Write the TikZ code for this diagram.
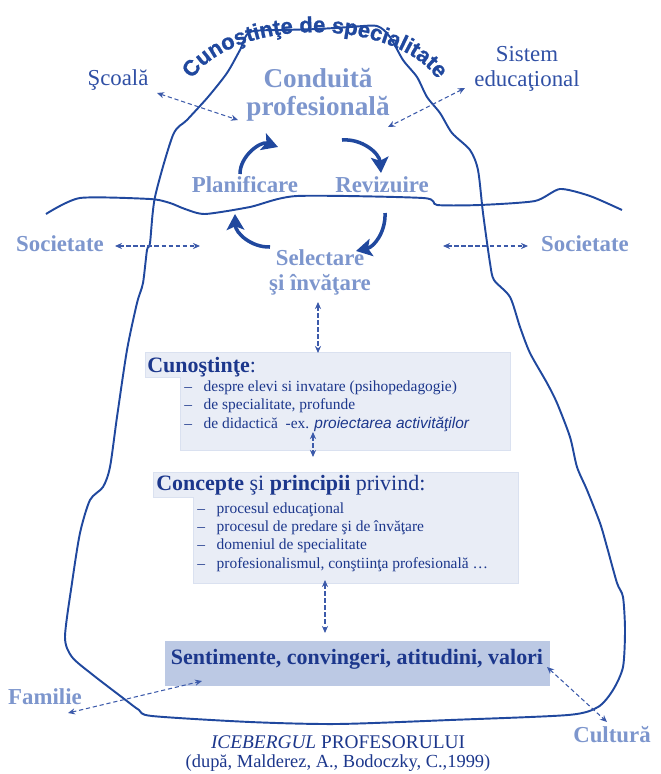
\documentclass[tikz,border=0pt]{standalone}
\usepackage{fontspec}
\setmainfont{Liberation Serif}
\setsansfont{Liberation Sans}
\newfontfamily\archfont[FakeBold=1]{Liberation Sans}
\usetikzlibrary{arrows.meta, decorations.text}
\definecolor{icedark}{RGB}{32,72,158}
\definecolor{navytext}{RGB}{28,55,140}
\definecolor{midblue}{RGB}{48,80,165}
\definecolor{paleblue}{RGB}{125,150,205}
\definecolor{boxfill}{RGB}{233,237,246}
\definecolor{boxedge}{RGB}{218,225,240}
\definecolor{sentfill}{RGB}{188,201,228}
\definecolor{arrblue}{RGB}{60,90,170}
\tikzset{
    bigpale/.style={anchor=base, inner sep=0pt, text=paleblue, font=\fontsize{15.5}{16}\selectfont\bfseries},
    cycpale/.style={anchor=base, inner sep=0pt, text=paleblue, font=\fontsize{13}{15}\selectfont\bfseries},
    outer/.style={anchor=base, inner sep=0pt, text=midblue, font=\fontsize{13}{15}\selectfont},
    head/.style={anchor=base west, inner sep=0pt, text=navytext, font=\fontsize{12.5}{14}\selectfont},
    item/.style={anchor=base west, inner sep=0pt, align=left, text=navytext, font=\fontsize{8.8}{10.3}\selectfont},
    panel/.style={fill=boxfill, draw=boxedge, line width=0.4pt},
    cyc/.style={-{Stealth[length=9pt,width=10pt,inset=2pt]}, line width=2pt, icedark},
    dbl/.style={{Stealth[length=4pt,width=3.5pt]}-{Stealth[length=4pt,width=3.5pt]}, line width=0.6pt, arrblue, dash pattern=on 2.4pt off 1.6pt}
}
\newcommand{\dash}{\makebox[11pt][l]{–}}
\begin{document}
\begin{tikzpicture}[x=0.02cm, y=-0.02cm]
    \useasboundingbox (0,0) rectangle (660,774);
    % iceberg outline and water line
    \draw[icedark, line width=1.1pt] plot[smooth cycle, tension=0.45] coordinates {
      (250,32) (285,30) (318,29) (350,27) (377,26) (390,37) (403,60) (417,77)
      (427,97) (440,113) (452,133) (470,150) (478,170) (483,213) (490,263)
      (494,280) (510,297) (520,327) (530,353) (547,383) (557,403) (570,437)
      (577,467) (587,490) (600,523) (607,547) (617,583) (623,597) (625,630)
      (623,667) (613,690) (598,707) (568,715) (450,720) (337,724) (250,722)
      (152,716) (139,710) (123,698) (93,675) (72,657) (65,637) (72,583)
      (80,533) (90,500) (103,487) (110,467) (117,417) (127,350) (137,303)
      (143,283) (147,250) (150,243) (155,197) (173,135) (187,120) (208,97)
      (227,73) (240,50)};
    \draw[icedark, line width=1.1pt] plot[smooth, tension=0.4] coordinates {
      (46,214) (80,198) (150,199) (170,203) (185,209) (205,214) (250,207)
      (297,196) (423,198) (437,205) (480,205) (535,201) (560,189) (590,196)
      (622,210)};
    \path[decorate, decoration={text along path, text align=center,
      text color=icedark,
      text={|\fontsize{12.5}{14}\selectfont\archfont\bfseries|Cunoştinţe de specialitate}}]
      (184,96) .. controls (210,11) and (418,11) .. (446,96);
    % panels
    \draw[panel] (145,352) -- (510,352) -- (510,450) -- (180,450) -- (180,377)
      -- (145,377) -- cycle;
    \draw[panel] (153,472) -- (518,472) -- (518,583) -- (193,583) -- (193,497)
      -- (153,497) -- cycle;
    \fill[sentfill] (165,641) rectangle (550,686);
    % labels
    \node[bigpale] (cond) at (318,87) {Conduită};
    \node[bigpale] (prof) at (318,115) {profesională};
    \node[cycpale] (plan) at (245,192) {Planificare};
    \node[cycpale] (rev) at (382,192) {Revizuire};
    \node[cycpale] (sel) at (320,265) {Selectare};
    \node[cycpale] (sel2) at (320,290) {şi învăţare};
    \node[outer] (scoala) at (118,85) {Şcoală};
    \node[outer] (sist) at (527,61) {Sistem};
    \node[outer] (educ) at (527,86) {educaţional};
    \node[cycpale] (socl) at (60,251) {Societate};
    \node[cycpale] (socr) at (585,251) {Societate};
    \node[cycpale] (fam) at (45,704) {Familie};
    \node[cycpale] (cult) at (612,742) {Cultură};
    \node[head] (cunh) at (147,372) {\textbf{Cunoştinţe}:};
    \node[item] (cunl) at (184,428)
      {\dash despre elevi si invatare (psihopedagogie)\\
       \dash de specialitate, profunde\\
       \dash de didactică \ -ex. {\sffamily\itshape proiectarea activităţilor}};
    \node[head] (conh) at (156,490)
      {\textbf{Concepte} şi \textbf{principii} privind:};
    \node[item] (conl) at (197,568)
      {\dash procesul educaţional\\
       \dash procesul de predare şi de învăţare\\
       \dash domeniul de specialitate\\
       \dash profesionalismul, conştiinţa profesională \dots};
    \node[anchor=base, inner sep=0pt, text=navytext,
      font=\fontsize{12.5}{14}\selectfont\bfseries] (sent) at (357,664)
      {Sentimente, convingeri, atitudini, valori};
    \node[anchor=base, inner sep=0pt, text=navytext,
      font=\fontsize{11}{13}\selectfont] (capt) at (338,748)
      {\textit{ICEBERGUL} PROFESORULUI};
    \node[anchor=base, inner sep=0pt, text=navytext,
      font=\fontsize{10.5}{13}\selectfont] (capt2) at (338,767)
      {(după, Malderez, A., Bodoczky, C.,1999)};
    % cycle arrows
    \coordinate (c1a) at (240,174); \coordinate (c1b) at (278,147);
    \coordinate (c2a) at (342,140); \coordinate (c2b) at (381,173);
    \coordinate (c3a) at (385,213); \coordinate (c3b) at (356,251);
    \coordinate (c4a) at (270,247); \coordinate (c4b) at (235,214);
    \draw[cyc] (c1a) to[bend left=55] (c1b);
    \draw[cyc] (c2a) to[bend left=45] (c2b);
    \draw[cyc] (c3a) to[bend left=40] (c3b);
    \draw[cyc] (c4a) to[bend left=45] (c4b);
    % dashed links
    \coordinate (sc1) at (157,93);  \coordinate (sc2) at (238,120);
    \coordinate (si1) at (465,88);  \coordinate (si2) at (388,127);
    \coordinate (sl1) at (115,246); \coordinate (sl2) at (200,246);
    \coordinate (sr1) at (443,246); \coordinate (sr2) at (528,246);
    \coordinate (v1a) at (318,302); \coordinate (v1b) at (318,353);
    \coordinate (v2a) at (313,432); \coordinate (v2b) at (313,457);
    \coordinate (v3a) at (325,580); \coordinate (v3b) at (325,633);
    \coordinate (fa1) at (68,713);  \coordinate (fa2) at (202,681);
    \coordinate (cu1) at (547,667); \coordinate (cu2) at (607,722);
    \draw[dbl] (sc1) -- (sc2);
    \draw[dbl] (si1) -- (si2);
    \draw[dbl] (sl1) -- (sl2);
    \draw[dbl] (sr1) -- (sr2);
    \draw[dbl] (v1a) -- (v1b);
    \draw[dbl] (v2a) -- (v2b);
    \draw[dbl] (v3a) -- (v3b);
    \draw[dbl] (fa1) -- (fa2);
    \draw[dbl] (cu1) -- (cu2);
\end{tikzpicture}
\end{document}
